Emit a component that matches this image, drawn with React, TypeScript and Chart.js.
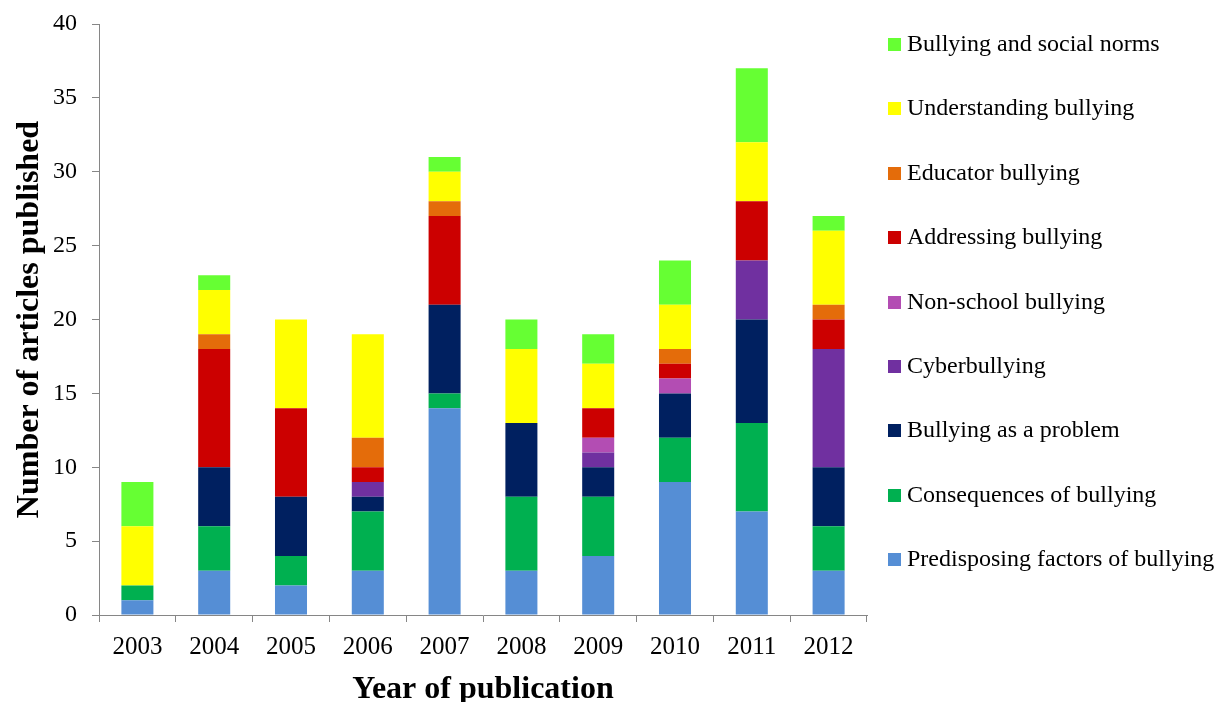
import React, { useEffect, useRef } from "react";
import { Chart, registerables } from "chart.js";

Chart.register(...registerables);

// Publication years
const years = ["2003", "2004", "2005", "2006", "2007", "2008", "2009", "2010", "2011", "2012"];

// Article counts per theme (stacked bottom to top)
const predisposing = [1, 3, 2, 3, 14, 3, 4, 9, 7, 3];
const consequences = [1, 3, 2, 4, 1, 5, 4, 3, 6, 3];
const asProblem = [0, 4, 4, 1, 6, 5, 2, 3, 7, 4];
const cyberbullying = [0, 0, 0, 1, 0, 0, 1, 0, 4, 8];
const nonSchool = [0, 0, 0, 0, 0, 0, 1, 1, 0, 0];
const addressing = [0, 8, 6, 1, 6, 0, 2, 1, 4, 2];
const educator = [0, 1, 0, 2, 1, 0, 0, 1, 0, 1];
const understanding = [4, 3, 6, 7, 2, 5, 3, 3, 4, 5];
const socialNorms = [3, 1, 0, 0, 1, 2, 2, 3, 5, 1];

const seriesLabels = [
  "Predisposing factors of bullying",
  "Consequences of bullying",
  "Bullying as a problem",
  "Cyberbullying",
  "Non-school bullying",
  "Addressing bullying",
  "Educator bullying",
  "Understanding bullying",
  "Bullying and social norms",
];
const seriesColors = [
  "#558ED5",
  "#00B050",
  "#002060",
  "#7030A0",
  "#B34DB3",
  "#CC0000",
  "#E46C0A",
  "#FFFF00",
  "#66FF33",
];
const seriesValues = [
  predisposing,
  consequences,
  asProblem,
  cyberbullying,
  nonSchool,
  addressing,
  educator,
  understanding,
  socialNorms,
];

const SERIF = "'Liberation Serif', 'Times New Roman', serif";
const AXIS_GRAY = "#868686";

// Vertical legend on the right, newest theme at the top
const sideLegend = {
  id: "sideLegend",
  afterDraw(chart: any) {
    const { ctx, chartArea } = chart;
    const boxX = chartArea.right + 21;
    const firstBaseline = 51;
    const step = 64.4;
    ctx.save();
    ctx.font = `24px ${SERIF}`;
    ctx.textBaseline = "alphabetic";
    ctx.textAlign = "left";
    const n = chart.data.datasets.length;
    for (let i = 0; i < n; i++) {
      const ds = chart.data.datasets[n - 1 - i];
      const base = Math.round(firstBaseline + i * step);
      ctx.fillStyle = ds.backgroundColor;
      ctx.fillRect(boxX, base - 13, 13, 13);
      ctx.fillStyle = "#000";
      ctx.fillText(ds.label, boxX + 19, base);
    }
    ctx.restore();
  },
};

export default function App() {
  const canvasRef = useRef<HTMLCanvasElement | null>(null);

  useEffect(() => {
    if (!canvasRef.current) return;
    const chart = new Chart(canvasRef.current, {
      type: "bar",
      data: {
        labels: years,
        datasets: seriesLabels.map((label, i) => ({
          label,
          data: seriesValues[i],
          backgroundColor: seriesColors[i],
          borderWidth: 0,
          categoryPercentage: 1,
          barPercentage: 0.417,
        })),
      },
      options: {
        responsive: false,
        animation: false,
        layout: { padding: { top: 24, right: 355, left: 0, bottom: 0 } },
        plugins: {
          legend: { display: false },
          tooltip: { enabled: false },
          title: { display: false },
        },
        scales: {
          x: {
            stacked: true,
            offset: true,
            grid: {
              offset: true,
              drawOnChartArea: false,
              drawTicks: true,
              tickLength: 7,
              color: AXIS_GRAY,
            },
            border: { color: AXIS_GRAY, width: 1 },
            ticks: {
              color: "#000",
              font: { family: SERIF, size: 25 },
              padding: 10,
              maxRotation: 0,
            },
            title: {
              display: true,
              text: "Year of publication",
              color: "#000",
              font: { family: SERIF, size: 32, weight: "bold", lineHeight: 1 },
              padding: { top: 0, bottom: -4 },
            },
            afterFit(scale: any) {
              scale.height = 87;
              scale.paddingLeft = 0;
              scale.paddingRight = 0;
            },
          },
          y: {
            stacked: true,
            min: 0,
            max: 40,
            grid: {
              drawOnChartArea: false,
              drawTicks: true,
              tickLength: 7,
              color: AXIS_GRAY,
            },
            border: { color: AXIS_GRAY, width: 1 },
            ticks: {
              stepSize: 5,
              color: "#000",
              font: { family: SERIF, size: 24 },
              padding: 15,
            },
            title: {
              display: true,
              text: "Number of articles published",
              color: "#000",
              font: { family: SERIF, size: 32, weight: "bold", lineHeight: 1 },
              padding: { top: 14, bottom: 0 },
            },
            afterFit(scale: any) {
              scale.width = 99;
              scale.paddingTop = 0;
              scale.paddingBottom = 0;
            },
          },
        },
      },
      plugins: [sideLegend],
    });
    return () => chart.destroy();
  }, []);

  return (
    <canvas
      ref={canvasRef}
      width={1222}
      height={702}
      style={{ position: "absolute", left: 0, top: 0, display: "block" }}
    />
  );
}
